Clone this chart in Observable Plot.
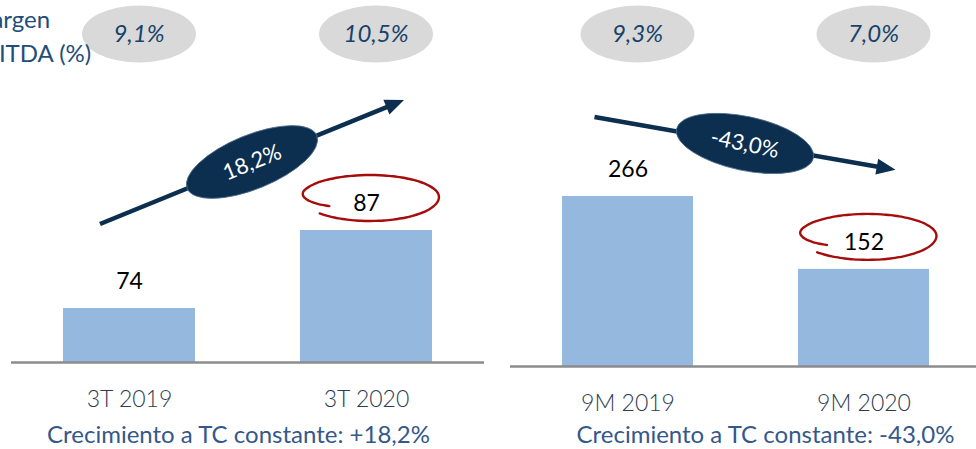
<!DOCTYPE html>
<html><head><meta charset="utf-8">
<script src="https://cdn.jsdelivr.net/npm/d3@7"></script>
<script src="https://cdn.jsdelivr.net/npm/@observablehq/plot@0.6"></script>
<style>
html,body{margin:0;padding:0;background:#fff;}
#wrap{display:flex;width:976px;height:449px;overflow:hidden;}
#wrap svg{flex:none;}
#wrap svg g[aria-label^="x-axis"] text{font-weight:300;font-size:23px;fill:#2c3d52;}
</style></head><body><div id="wrap"></div>
<script>
// ---- data ----
const leftCategories = ["3T 2019", "3T 2020"];
const leftValues = [74, 87];
const leftMargins = [9.1, 10.5];
const leftGrowth = 18.2;
const rightCategories = ["9M 2019", "9M 2020"];
const rightValues = [266, 152];
const rightMargins = [9.3, 7.0];
const rightGrowth = -43.0;
const marginTitle = ["Margen", "EBITDA (%)"];
const captionPrefix = "Crecimiento a TC constante: ";

const fmt = (v, sign) => (sign && v > 0 ? "+" : "") + v.toFixed(1).replace(".", ",") + "%";

function getScale(s, key) {
  if (typeof s[key] === "function") return s[key];
  if (s.scales && typeof s.scales[key] === "function") return s.scales[key];
  if (s[key] && s[key].apply) return v => s[key].apply(v);
}
function getBandwidth(s) {
  for (const c of [s.x, s.scales && s.scales.x]) {
    if (!c) continue;
    if (typeof c.bandwidth === "function") return c.bandwidth();
    if (typeof c.bandwidth === "number") return c.bandwidth;
  }
  return 0;
}

function annotations(cats, vals, margins, growth, cfg) {
  return function(index, scales) {
    const X = getScale(scales, "x"), Y = getScale(scales, "y"), bw = getBandwidth(scales);
    const cx = cats.map(c => X(c) + bw / 2);
    const ty = vals.map(v => Y(v));
    const g = d3.create("svg:g");
    // margin bubbles
    margins.forEach((m, i) => {
      g.append("ellipse").attr("cx", cx[i] + 10).attr("cy", 34).attr("rx", 57).attr("ry", 28.5).attr("fill", "#d9d9d9");
      g.append("text").attr("x", cx[i] + 10).attr("y", 34).attr("dy", "0.35em")
        .attr("text-anchor", "middle").attr("font-style", "italic").attr("font-size", 24)
        .attr("fill", "#17426b").text(fmt(m));
    });
    // growth arrow
    const x1 = cx[0] + cfg.a0[0], y1 = ty[0] + cfg.a0[1];
    const x2 = cx[1] + cfg.a1[0], y2 = ty[1] + cfg.a1[1];
    const ang = Math.atan2(y2 - y1, x2 - x1);
    const head = 19, hw = 8;
    const bx = x2 - head * Math.cos(ang), by = y2 - head * Math.sin(ang);
    const navy = "#0c2f4f";
    g.append("line").attr("x1", x1).attr("y1", y1).attr("x2", bx + Math.cos(ang)).attr("y2", by + Math.sin(ang))
      .attr("stroke", navy).attr("stroke-width", 4.5);
    g.append("path").attr("d",
      `M${x2},${y2}L${bx + hw * Math.sin(ang)},${by - hw * Math.cos(ang)}L${bx - hw * Math.sin(ang)},${by + hw * Math.cos(ang)}Z`)
      .attr("fill", navy);
    const mx = (x1 + x2) / 2, my = (y1 + y2) / 2, deg = ang * 180 / Math.PI + cfg.tilt;
    g.append("ellipse").attr("transform", `translate(${mx},${my}) rotate(${deg})`)
      .attr("rx", 70).attr("ry", 27).attr("fill", navy).attr("stroke", "#4d6e8e").attr("stroke-width", 0.8);
    g.append("text").attr("transform", `translate(${mx},${my}) rotate(${deg})`).attr("dy", "0.35em")
      .attr("text-anchor", "middle").attr("font-size", 22).attr("fill", "#fff").text(fmt(growth));
    // red loop around latest value
    const lcx = cx[1] + 4, lcy = ty[1] - 33, rx = 69, ry = 22;
    const t0 = 0.805 * Math.PI, t1 = 2.76 * Math.PI, n = 90;
    const pts = d3.range(n + 1).map(k => {
      const t = t0 + (t1 - t0) * k / n;
      const u = (t - t0) / (0.3 * Math.PI);
      const r = u < 1 ? 0.72 + 0.28 * Math.sin(u * Math.PI / 2) : 1;
      return [lcx + rx * r * Math.cos(t), lcy + ry * r * Math.sin(t) + (t > 2 * Math.PI ? 2 * Math.sin(t - 2 * Math.PI) : 0)];
    });
    g.append("path").attr("d", d3.line().curve(d3.curveBasis)(pts))
      .attr("fill", "none").attr("stroke", "#a50d0d").attr("stroke-width", 2.4).attr("stroke-linecap", "round");
    return g.node();
  };
}

function panel(o) {
  const data = o.cats.map((c, i) => ({cat: c, value: o.vals[i]}));
  const marks = [
    Plot.barY(data, {x: "cat", y1: o.yDomain[0], y2: "value", fill: "#95b8df"}),
    Plot.ruleY([o.yDomain[0]], {stroke: "#8c8c8c", strokeWidth: 2.5}),
    Plot.text(data, {x: "cat", y: "value", text: d => String(d.value), dy: -27, fontSize: 23, fill: "#000"}),
    Plot.text([captionPrefix + fmt(o.growth, true)], {frameAnchor: "bottom", dx: o.captionDx, dy: o.captionDy, fontSize: 24, fill: "#34588a"}),
    annotations(o.cats, o.vals, o.margins, o.growth, o.cfg)
  ];
  if (o.title) marks.push(Plot.text([o.title.join("\n")], {frameAnchor: "top-left", textAnchor: "start", lineAnchor: "top", dx: -42, dy: 4, fontSize: 24, lineHeight: 1.4, fill: "#1f4e79"}));
  return Plot.plot({
    width: 488, height: 449,
    marginLeft: o.mL, marginRight: o.mR, marginTop: 0, marginBottom: o.mB,
    style: {fontFamily: "Lato, 'Open Sans', sans-serif", fontSize: "23px", color: "#2c3d52", background: "transparent", overflow: "hidden"},
    x: {domain: o.cats, range: o.xRange, paddingInner: 0.443, paddingOuter: 0.219, tickSize: 0, tickPadding: 28, label: null},
    y: {domain: o.yDomain, range: o.yRange, axis: null},
    marks
  });
}

const wrap = document.getElementById("wrap");
wrap.appendChild(panel({
  cats: leftCategories, vals: leftValues, margins: leftMargins, growth: leftGrowth,
  yDomain: [65, 100], yRange: [362, 152], xRange: [11, 484],
  mL: 11, mR: 4, mB: 87, captionDx: -9.5, captionDy: 80,
  cfg: {a0: [-29, -84], a1: [38, -130], tilt: 0},
  title: marginTitle
}));
wrap.appendChild(panel({
  cats: rightCategories, vals: rightValues, margins: rightMargins, growth: rightGrowth,
  yDomain: [0, 300], yRange: [366, 174.3], xRange: [22, 494],
  mL: 22, mR: 0, mB: 83, captionDx: 22, captionDy: 76,
  cfg: {a0: [-33, -79], a1: [32, -99], tilt: 2}
}));
</script></body></html>
